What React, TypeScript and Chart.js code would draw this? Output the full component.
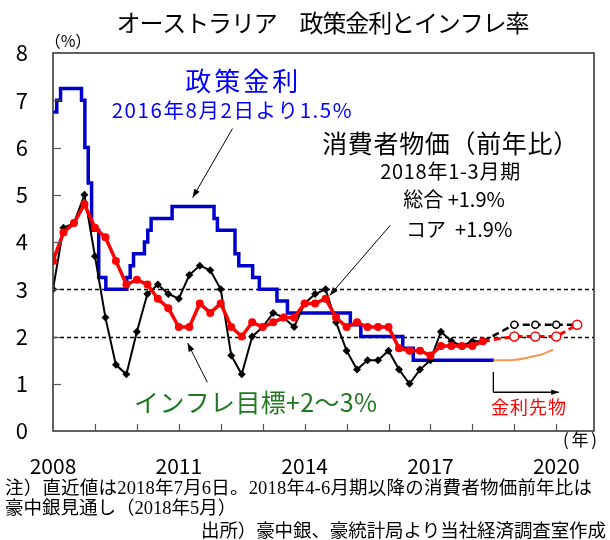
import React, { useEffect, useRef } from 'react';
import { Chart, registerables } from 'chart.js';

Chart.register(...registerables);

const FONT = '"Noto Sans CJK JP", "Noto Sans", sans-serif';
const NOTE_FONT = '"Liberation Serif", "Noto Sans CJK JP", serif';

const titleText = 'オーストラリア　政策金利とインフレ率';
const xLabelYears = [2008, 2011, 2014, 2017, 2020];
const targetBand = [2, 3];

// Policy rate: date of change (fractional year) and the new rate (%)
const rateDates = [2008.0, 2008.09, 2008.18, 2008.68, 2008.76, 2008.84, 2008.92, 2009.09, 2009.26, 2009.76, 2009.84, 2009.92, 2010.18, 2010.26, 2010.34, 2010.84, 2011.84, 2011.92, 2012.34, 2012.43, 2012.76, 2012.92, 2013.34, 2013.59, 2015.09, 2015.34, 2016.34, 2016.59, 2018.51];
const rateValues = [6.75, 7.0, 7.25, 7.0, 6.0, 5.25, 4.25, 3.25, 3.0, 3.25, 3.5, 3.75, 4.0, 4.25, 4.5, 4.75, 4.5, 4.25, 3.75, 3.5, 3.25, 3.0, 2.75, 2.5, 2.25, 2.0, 1.75, 1.5, 1.5];

// Rate futures path
const futuresDates = [2018.51, 2018.9, 2019.2, 2019.4, 2019.65, 2019.92];
const futuresValues = [1.5, 1.5, 1.53, 1.57, 1.62, 1.72];

// Quarterly CPI, plotted at quarter end
const quarterEnds = [2008.0, 2008.25, 2008.5, 2008.75, 2009.0, 2009.25, 2009.5, 2009.75, 2010.0, 2010.25, 2010.5, 2010.75, 2011.0, 2011.25, 2011.5, 2011.75, 2012.0, 2012.25, 2012.5, 2012.75, 2013.0, 2013.25, 2013.5, 2013.75, 2014.0, 2014.25, 2014.5, 2014.75, 2015.0, 2015.25, 2015.5, 2015.75, 2016.0, 2016.25, 2016.5, 2016.75, 2017.0, 2017.25, 2017.5, 2017.75, 2018.0, 2018.25];
const cpiHeadline = [3.0, 4.3, 4.4, 5.0, 3.7, 2.4, 1.4, 1.2, 2.1, 2.9, 3.1, 2.9, 2.8, 3.3, 3.5, 3.4, 3.0, 1.6, 1.2, 2.0, 2.2, 2.5, 2.4, 2.2, 2.7, 2.9, 3.0, 2.3, 1.7, 1.3, 1.5, 1.5, 1.7, 1.3, 1.0, 1.3, 1.5, 2.1, 1.9, 1.8, 1.9, 1.9];
const cpiCore = [3.6, 4.2, 4.4, 4.8, 4.3, 4.1, 3.6, 3.1, 3.2, 3.1, 2.8, 2.6, 2.2, 2.2, 2.7, 2.5, 2.7, 2.2, 2.0, 2.3, 2.2, 2.3, 2.4, 2.4, 2.7, 2.7, 2.8, 2.4, 2.2, 2.3, 2.2, 2.2, 2.2, 1.75, 1.7, 1.7, 1.6, 1.8, 1.8, 1.8, 1.8, 1.9];

// RBA forecasts (May 2018)
const forecastDates = [2018.25, 2019.0, 2019.5, 2020.0, 2020.5];
const forecastHeadline = [1.9, 2.25, 2.25, 2.25, 2.25];
const forecastCore = [1.9, 2.0, 2.0, 2.0, 2.25];

const footnote1 = '注）直近値は2018年7月6日。2018年4-6月期以降の消費者物価前年比は';
const footnote2 = '豪中銀見通し（2018年5月）';
const sourceNote = '出所）豪中銀、豪統計局より当社経済調査室作成';

type Note = { text: string; x: number; y: number; size: number; color: string; width?: number; align?: CanvasTextAlign };
const notes: Note[] = [
  { text: '政策金利', x: 2012.5, y: 7.41, size: 26, color: '#0000ff', width: 113 },
  { text: '2016年8月2日より1.5%', x: 2012.26, y: 6.78, size: 20.5, color: '#0000ff', width: 240 },
  { text: '消費者物価（前年比）', x: 2017.47, y: 6.08, size: 25, color: '#000000', width: 256 },
  { text: '2018年1-3月期', x: 2017.47, y: 5.49, size: 20, color: '#000000', width: 140 },
  { text: '総合 +1.9%', x: 2016.35, y: 4.9, size: 20, color: '#000000', align: 'left' },
  { text: 'コア  +1.9%', x: 2016.42, y: 4.27, size: 20, color: '#000000', align: 'left' },
  { text: 'インフレ目標+2〜3%', x: 2012.83, y: 0.61, size: 25, color: '#1f7a1f', width: 243 },
  { text: '金利先物', x: 2019.34, y: 0.51, size: 18, color: '#ff0000', width: 75 },
];

const arrows = [
  { from: [2012.28, 6.4], to: [2011.33, 4.94] },
  { from: [2016.04, 4.35], to: [2014.6, 2.87] },
  { from: [2011.68, 1.03], to: [2011.21, 1.86] },
];
const futuresArrow = [[2018.5, 1.25], [2018.5, 0.82], [2020.06, 0.82]];

const zip = (xs: number[], ys: number[]) => xs.map((x, i) => ({ x, y: ys[i] }));

function drawText(ctx: CanvasRenderingContext2D, text: string, x: number, y: number, size: number, color: string, align: CanvasTextAlign = 'center', width?: number, family: string = FONT) {
  ctx.font = `${size}px ${family}`;
  ctx.fillStyle = color;
  ctx.textAlign = align;
  ctx.textBaseline = 'middle';
  let spacing = 0;
  if (width) {
    const w = ctx.measureText(text).width;
    const n = Array.from(text).length;
    if (n > 1) spacing = (width - w) / (n - 1);
  }
  (ctx as any).letterSpacing = spacing + 'px';
  let px = x;
  if (align === 'center' && spacing) px = x + spacing / 2;
  if (align === 'right' && spacing) px = x + spacing;
  ctx.fillText(text, px, y);
  (ctx as any).letterSpacing = '0px';
}

function drawArrow(ctx: CanvasRenderingContext2D, x1: number, y1: number, x2: number, y2: number, head = 9) {
  ctx.beginPath();
  ctx.moveTo(x1, y1);
  ctx.lineTo(x2, y2);
  ctx.stroke();
  const ang = Math.atan2(y2 - y1, x2 - x1);
  ctx.beginPath();
  ctx.moveTo(x2, y2);
  ctx.lineTo(x2 - head * Math.cos(ang - 0.35), y2 - head * Math.sin(ang - 0.35));
  ctx.lineTo(x2 - head * Math.cos(ang + 0.35), y2 - head * Math.sin(ang + 0.35));
  ctx.closePath();
  ctx.fill();
}

const decorPlugin = {
  id: 'decor',
  beforeDraw(chart: any) {
    const ctx = chart.ctx;
    ctx.save();
    ctx.fillStyle = '#ffffff';
    ctx.fillRect(0, 0, chart.width, chart.height);
    ctx.restore();
  },
  beforeDatasetsDraw(chart: any) {
    const { ctx, chartArea: a, scales } = chart;
    const y = scales.y;
    ctx.save();
    ctx.strokeStyle = '#000000';
    ctx.lineWidth = 1.3;
    ctx.setLineDash([4, 3]);
    for (const v of targetBand) {
      const py = Math.round(y.getPixelForValue(v)) + 0.5;
      ctx.beginPath();
      ctx.moveTo(a.left, py);
      ctx.lineTo(a.right, py);
      ctx.stroke();
    }
    ctx.restore();
  },
  afterDraw(chart: any) {
    const { ctx, chartArea: a, scales } = chart;
    const x = scales.x;
    const y = scales.y;
    ctx.save();
    // frame
    ctx.strokeStyle = '#3a3a3a';
    ctx.lineWidth = 1.6;
    ctx.strokeRect(a.left, a.top, a.right - a.left, a.bottom - a.top);
    // inner ticks
    ctx.lineWidth = 1.2;
    ctx.strokeStyle = '#555555';
    for (const t of x.ticks) {
      if (t.value <= x.min || t.value >= x.max) continue;
      const px = Math.round(x.getPixelForValue(t.value)) + 0.5;
      ctx.beginPath();
      ctx.moveTo(px, a.bottom);
      ctx.lineTo(px, a.bottom - 7);
      ctx.stroke();
    }
    for (const t of y.ticks) {
      if (t.value <= y.min || t.value >= y.max) continue;
      const py = Math.round(y.getPixelForValue(t.value)) + 0.5;
      ctx.beginPath();
      ctx.moveTo(a.left, py);
      ctx.lineTo(a.left + 8, py);
      ctx.stroke();
    }
    // title and unit labels
    drawText(ctx, titleText, 323, 23, 24, '#000000', 'center', 413);
    drawText(ctx, '（%）', a.left + 15, a.top - 12, 16, '#000000', 'center');
    drawText(ctx, '(年)', a.right - 14, a.bottom + 9, 17, '#000000', 'center', 34);
    // annotations
    for (const n of notes) {
      drawText(ctx, n.text, x.getPixelForValue(n.x), y.getPixelForValue(n.y), n.size, n.color, n.align || 'center', n.width);
    }
    ctx.strokeStyle = '#000000';
    ctx.fillStyle = '#000000';
    ctx.lineWidth = 1;
    for (const ar of arrows) {
      drawArrow(ctx, x.getPixelForValue(ar.from[0]), y.getPixelForValue(ar.from[1]), x.getPixelForValue(ar.to[0]), y.getPixelForValue(ar.to[1]));
    }
    const p = futuresArrow.map(([vx, vy]) => [x.getPixelForValue(vx), y.getPixelForValue(vy)]);
    ctx.lineWidth = 1.3;
    ctx.beginPath();
    ctx.moveTo(p[0][0], p[0][1]);
    ctx.lineTo(p[1][0], p[1][1]);
    ctx.stroke();
    drawArrow(ctx, p[1][0], p[1][1], p[2][0], p[2][1], 8);
    // footnotes
    drawText(ctx, footnote1, 5, 489, 18.5, '#000000', 'left', 587, NOTE_FONT);
    drawText(ctx, footnote2, 5, 509, 18.5, '#000000', 'left', undefined, NOTE_FONT);
    drawText(ctx, sourceNote, 606, 530, 18.5, '#000000', 'right', 405);
    ctx.restore();
  },
};

export default function App() {
  const ref = useRef<HTMLCanvasElement>(null);
  useEffect(() => {
    if (!ref.current) return;
    const chart = new Chart(ref.current, {
      type: 'line',
      data: {
        datasets: [
          {
            label: 'コア見通し',
            data: zip(forecastDates, forecastCore),
            borderColor: '#ff0000',
            borderWidth: 3,
            borderDash: [7, 4],
            pointRadius: [0, 4.5, 4.5, 4.5, 4.5],
            pointBackgroundColor: '#ffffff',
            pointBorderColor: '#ff0000',
            pointBorderWidth: 1.5,
          },
          {
            label: 'コア',
            data: zip(quarterEnds, cpiCore),
            borderColor: '#ff0000',
            borderWidth: 3.5,
            pointRadius: 4,
            pointBackgroundColor: '#ff0000',
            pointBorderColor: '#ff0000',
            pointBorderWidth: 0,
          },
          {
            label: '総合見通し',
            data: zip(forecastDates, forecastHeadline),
            borderColor: '#000000',
            borderWidth: 2.5,
            borderDash: [7, 4],
            pointRadius: [0, 3.5, 3.5, 3.5, 3.5],
            pointBackgroundColor: '#ffffff',
            pointBorderColor: '#000000',
            pointBorderWidth: 1.5,
          },
          {
            label: '総合',
            data: zip(quarterEnds, cpiHeadline),
            borderColor: '#000000',
            borderWidth: 2,
            pointStyle: 'rectRot',
            pointRadius: 4,
            pointBackgroundColor: '#000000',
            pointBorderColor: '#000000',
            pointBorderWidth: 0,
          },
          {
            label: '金利先物',
            data: zip(futuresDates, futuresValues),
            borderColor: '#f7964a',
            borderWidth: 2,
            pointRadius: 0,
            cubicInterpolationMode: 'monotone',
          },
          {
            label: '政策金利',
            data: zip(rateDates, rateValues),
            borderColor: '#0000cc',
            borderWidth: 3.5,
            pointRadius: 0,
            stepped: true,
          },
        ],
      },
      options: {
        responsive: false,
        animation: false,
        devicePixelRatio: 1,
        layout: { padding: { top: 53, right: 16, bottom: 0, left: 0 } },
        plugins: { legend: { display: false }, tooltip: { enabled: false }, title: { display: false } },
        scales: {
          x: {
            type: 'linear',
            min: 2008,
            max: 2020.9,
            grid: { display: false, drawTicks: false },
            border: { display: false },
            ticks: {
              stepSize: 1,
              autoSkip: false,
              maxRotation: 0,
              includeBounds: false,
              padding: 22,
              color: '#000000',
              font: { family: FONT, size: 21 },
              callback: (v: any) => (xLabelYears.includes(Number(v)) ? String(v) : ''),
            },
            afterFit: (s: any) => { s.height = 109; },
          },
          y: {
            min: 0,
            max: 8,
            grid: { display: false, drawTicks: false },
            border: { display: false },
            ticks: {
              stepSize: 1,
              padding: 25,
              color: '#000000',
              font: { family: FONT, size: 22 },
            },
            afterFit: (s: any) => { s.width = 53; },
          },
        },
      },
      plugins: [decorPlugin],
    } as any);
    return () => chart.destroy();
  }, []);
  return (
    <div style={{ position: 'fixed', left: 0, top: 0, width: 610, height: 540, background: '#ffffff' }}>
      <canvas ref={ref} width={610} height={540} />
    </div>
  );
}
